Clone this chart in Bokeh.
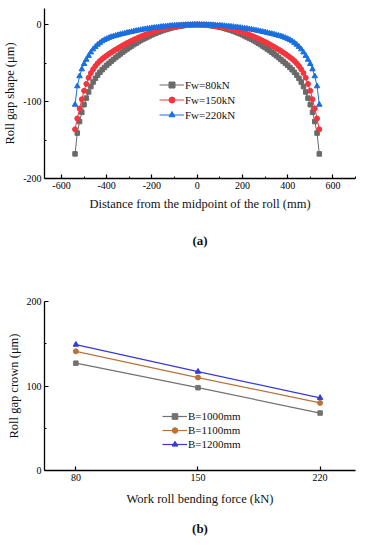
from bokeh.plotting import figure
from bokeh.models import Range1d, FixedTicker, Legend, LegendItem, Title
from bokeh.layouts import column
from bokeh.embed import file_html
from bokeh.resources import INLINE

SERIF = "Liberation Serif"

# ---------------- data: chart (a) ----------------
distance_mm = [-540, -530, -520, -510, -500, -490, -480, -470, -460, -450, -440, -430, -420, -410,
               -400, -390, -380, -370, -360, -350, -340, -330, -320, -310, -300, -290, -280, -270,
               -260, -250, -240, -230, -220, -210, -200, -190, -180, -170, -160, -150, -140, -130,
               -120, -110, -100, -90, -80, -70, -60, -50, -40, -30, -20, -10, 0,
               10, 20, 30, 40, 50, 60, 70, 80, 90, 100, 110, 120, 130, 140, 150, 160, 170, 180,
               190, 200, 210, 220, 230, 240, 250, 260, 270, 280, 290, 300, 310, 320, 330, 340,
               350, 360, 370, 380, 390, 400, 410, 420, 430, 440, 450, 460, 470, 480, 490, 500,
               510, 520, 530, 540]

gap_fw80 = [-168, -141, -126, -114, -104, -95.5, -87.5, -80.5, -74.6, -69.8, -65.6, -61.9, -58.6, -55.6,
            -52.8, -50.3, -47.7, -45.2, -42.8, -40.4, -38.1, -35.9, -33.8, -31.7, -29.7, -27.8, -25.9,
            -24.1, -22.3, -20.6, -19.0, -17.5, -16.0, -14.6, -13.2, -11.9, -10.7, -9.5, -8.4, -7.4,
            -6.5, -5.6, -4.8, -4.0, -3.3, -2.7, -2.1, -1.6, -1.2, -0.83, -0.53, -0.3, -0.13, -0.03, 0,
            -0.03, -0.13, -0.3, -0.53, -0.83, -1.2, -1.6, -2.1, -2.7, -3.3, -4.0, -4.8, -5.6, -6.5,
            -7.4, -8.4, -9.5, -10.7, -11.9, -13.2, -14.6, -16.0, -17.5, -19.0, -20.6, -22.3, -24.1,
            -25.9, -27.8, -29.7, -31.7, -33.8, -35.9, -38.1, -40.4, -42.8, -45.2, -47.7, -50.3, -52.8,
            -55.6, -58.6, -61.9, -65.6, -69.8, -74.6, -80.5, -87.5, -95.5, -104, -114, -126, -141, -168]

gap_fw150 = [-136, -122, -109, -97.0, -86.0, -77.0, -69.0, -63.0, -58.0, -53.8, -50.2, -47.2, -44.6, -42.3,
             -40.2, -38.1, -36.1, -34.2, -32.4, -30.6, -28.9, -27.2, -25.6, -24.0, -22.5, -21.0, -19.6,
             -18.2, -16.9, -15.6, -14.4, -13.2, -12.1, -11.0, -10.0, -9.0, -8.1, -7.2, -6.4, -5.6,
             -4.9, -4.2, -3.6, -3.0, -2.5, -2.0, -1.6, -1.2, -0.9, -0.6, -0.4, -0.2, -0.1, 0, 0,
             0, -0.1, -0.2, -0.4, -0.6, -0.9, -1.2, -1.6, -2.0, -2.5, -3.0, -3.6, -4.2, -4.9,
             -5.6, -6.4, -7.2, -8.1, -9.0, -10.0, -11.0, -12.1, -13.2, -14.4, -15.6, -16.9, -18.2,
             -19.6, -21.0, -22.5, -24.0, -25.6, -27.2, -28.9, -30.6, -32.4, -34.2, -36.1, -38.1, -40.2,
             -42.3, -44.6, -47.2, -50.2, -53.8, -58.0, -63.0, -69.0, -77.0, -86.0, -97.0, -109, -122, -136]

gap_fw220 = [-104, -80, -67, -58, -51, -45.5, -40.5, -36, -32, -28.8, -26, -23.6, -21.5, -19.8,
             -18.4, -17.1, -16.0, -15.1, -14.3, -13.5, -12.7, -12.0, -11.3, -10.6, -9.9, -9.3, -8.6,
             -8.0, -7.4, -6.9, -6.3, -5.8, -5.3, -4.9, -4.4, -4.0, -3.6, -3.2, -2.8, -2.5,
             -2.2, -1.9, -1.6, -1.3, -1.1, -0.9, -0.7, -0.5, -0.4, -0.3, -0.2, -0.1, 0, 0, 0,
             0, 0, -0.1, -0.2, -0.3, -0.4, -0.5, -0.7, -0.9, -1.1, -1.3, -1.6, -1.9, -2.2,
             -2.5, -2.8, -3.2, -3.6, -4.0, -4.4, -4.9, -5.3, -5.8, -6.3, -6.9, -7.4, -8.0,
             -8.6, -9.3, -9.9, -10.6, -11.3, -12.0, -12.7, -13.5, -14.3, -15.1, -16.0, -17.1, -18.4,
             -19.8, -21.5, -23.6, -26, -28.8, -32, -36, -40.5, -45.5, -51, -58, -67, -80, -104]

a_series = ["Fw=80kN", "Fw=150kN", "Fw=220kN"]
a_xticks = [-600, -400, -200, 0, 200, 400, 600]
a_xminor = [-700, -500, -300, -100, 100, 300, 500, 700]
a_xtick_labels = ["-600", "-400", "-200", "0", "200", "400", "600"]
a_yticks = [-200, -100, 0]
a_yminor = [-150, -50]
a_ytick_labels = ["-200", "-100", "0"]

# ---------------- data: chart (b) ----------------
bending_force_kN = [80, 150, 220]
crown_b1000 = [127, 98, 68]
crown_b1100 = [141, 110, 80]
crown_b1200 = [149, 117, 86]
b_series = ["B=1000mm", "B=1100mm", "B=1200mm"]
b_xticks = [80, 150, 220]
b_xtick_labels = ["80", "150", "220"]
b_yticks = [0, 100, 200]
b_yminor = [50, 150]
b_ytick_labels = ["0", "100", "200"]


def style_axes(p, xt, xminor, xlab, yt, yminor, ylab, xtitle, ytitle):
    p.xaxis.ticker = FixedTicker(ticks=xt, minor_ticks=xminor)
    p.yaxis.ticker = FixedTicker(ticks=yt, minor_ticks=yminor)
    p.xaxis.major_label_overrides = {t: s for t, s in zip(xt, xlab)}
    p.yaxis.major_label_overrides = {t: s for t, s in zip(yt, ylab)}
    p.xaxis.axis_label = xtitle
    p.yaxis.axis_label = ytitle
    for ax in (p.xaxis, p.yaxis):
        ax.axis_line_color = "black"
        ax.axis_line_width = 1.3
        ax.major_tick_line_color = "black"
        ax.minor_tick_line_color = "black"
        ax.major_tick_line_width = 1.2
        ax.minor_tick_line_width = 1.0
        ax.major_tick_in = 4
        ax.major_tick_out = 0
        ax.minor_tick_in = 2
        ax.minor_tick_out = 0
        ax.major_label_text_font = SERIF
        ax.major_label_text_font_size = "10px"
        ax.major_label_text_color = "black"
        ax.major_label_standoff = 3
        ax.axis_label_text_font = SERIF
        ax.axis_label_text_font_size = "12.5px"
        ax.axis_label_text_font_style = "normal"
        ax.axis_label_text_color = "#111111"
        ax.axis_label_standoff = 3
    p.xaxis.axis_label_standoff = 5
    p.xgrid.visible = False
    p.ygrid.visible = False
    p.outline_line_color = None
    p.background_fill_color = "white"
    p.border_fill_color = "white"


def make_legend(items, loc, row_h):
    lg = Legend(items=items, location=loc)
    lg.background_fill_alpha = 0
    lg.border_line_color = None
    lg.padding = 0
    lg.margin = 0
    lg.spacing = 0
    lg.glyph_width = 25
    lg.glyph_height = row_h
    lg.label_height = row_h
    lg.label_standoff = 1
    lg.label_text_font = SERIF
    lg.label_text_font_size = "11px"
    lg.label_text_color = "#111111"
    return lg


# ---------------- figure (a) ----------------
pa = figure(width=358, height=290, output_backend="svg", toolbar_location=None,
            x_range=Range1d(-675, 700), y_range=Range1d(-200, 21),
            min_border_left=37, min_border_right=3, min_border_top=8, min_border_bottom=112)
style_axes(pa, a_xticks, a_xminor, a_xtick_labels, a_yticks, a_yminor, a_ytick_labels,
           "Distance from the midpoint of the roll (mm)", "Roll gap shape (\u03bcm)")

a_colors = ["#6a6a6a", "#f4353d", "#1a6fdf"]
a_markers = ["square", "circle", "triangle"]
a_sizes = [4.5, 5, 5.5]
a_items = []
for name, vals, col, mk, sz in zip(a_series, [gap_fw80, gap_fw150, gap_fw220], a_colors, a_markers, a_sizes):
    r1 = pa.line(distance_mm, vals, line_color=col, line_width=1)
    r2 = pa.scatter(distance_mm, vals, marker=mk, size=sz, fill_color=col, line_color=col)
    a_items.append(LegendItem(label=name, renderers=[r1, r2]))
pa.add_layout(make_legend(a_items, (115, 56), 15))
pa.add_layout(Title(text="(a)", align="center", text_font=SERIF, text_font_size="13px",
                    text_font_style="bold", text_color="#111111", standoff=34), "below")

# ---------------- figure (b) ----------------
pb = figure(width=358, height=255, output_backend="svg", toolbar_location=None,
            x_range=Range1d(62, 240.3), y_range=Range1d(0, 200),
            min_border_left=37, min_border_right=3, min_border_top=11, min_border_bottom=75)
style_axes(pb, b_xticks, [], b_xtick_labels, b_yticks, b_yminor, b_ytick_labels,
           "Work roll bending force (kN)", "Roll gap crown (\u03bcm)")
pb.xaxis.axis_label_standoff = 8

b_colors = ["#727272", "#b8733c", "#3838d6"]
b_markers = ["square", "circle", "triangle"]
b_sizes = [4.5, 5, 5.5]
b_items = []
for name, vals, col, mk, sz in zip(b_series, [crown_b1000, crown_b1100, crown_b1200], b_colors, b_markers, b_sizes):
    r1 = pb.line(bending_force_kN, vals, line_color=col, line_width=1.2)
    r2 = pb.scatter(bending_force_kN, vals, marker=mk, size=sz, fill_color=col, line_color=col)
    b_items.append(LegendItem(label=name, renderers=[r1, r2]))
pb.add_layout(make_legend(b_items, (118, 19), 14))
pb.add_layout(Title(text="(b)", align="center", text_font=SERIF, text_font_size="13px",
                    text_font_style="bold", text_color="#111111", standoff=20), "below")

layout = column(pa, pb, spacing=0)
open("out.html", "w").write(file_html(layout, INLINE))
